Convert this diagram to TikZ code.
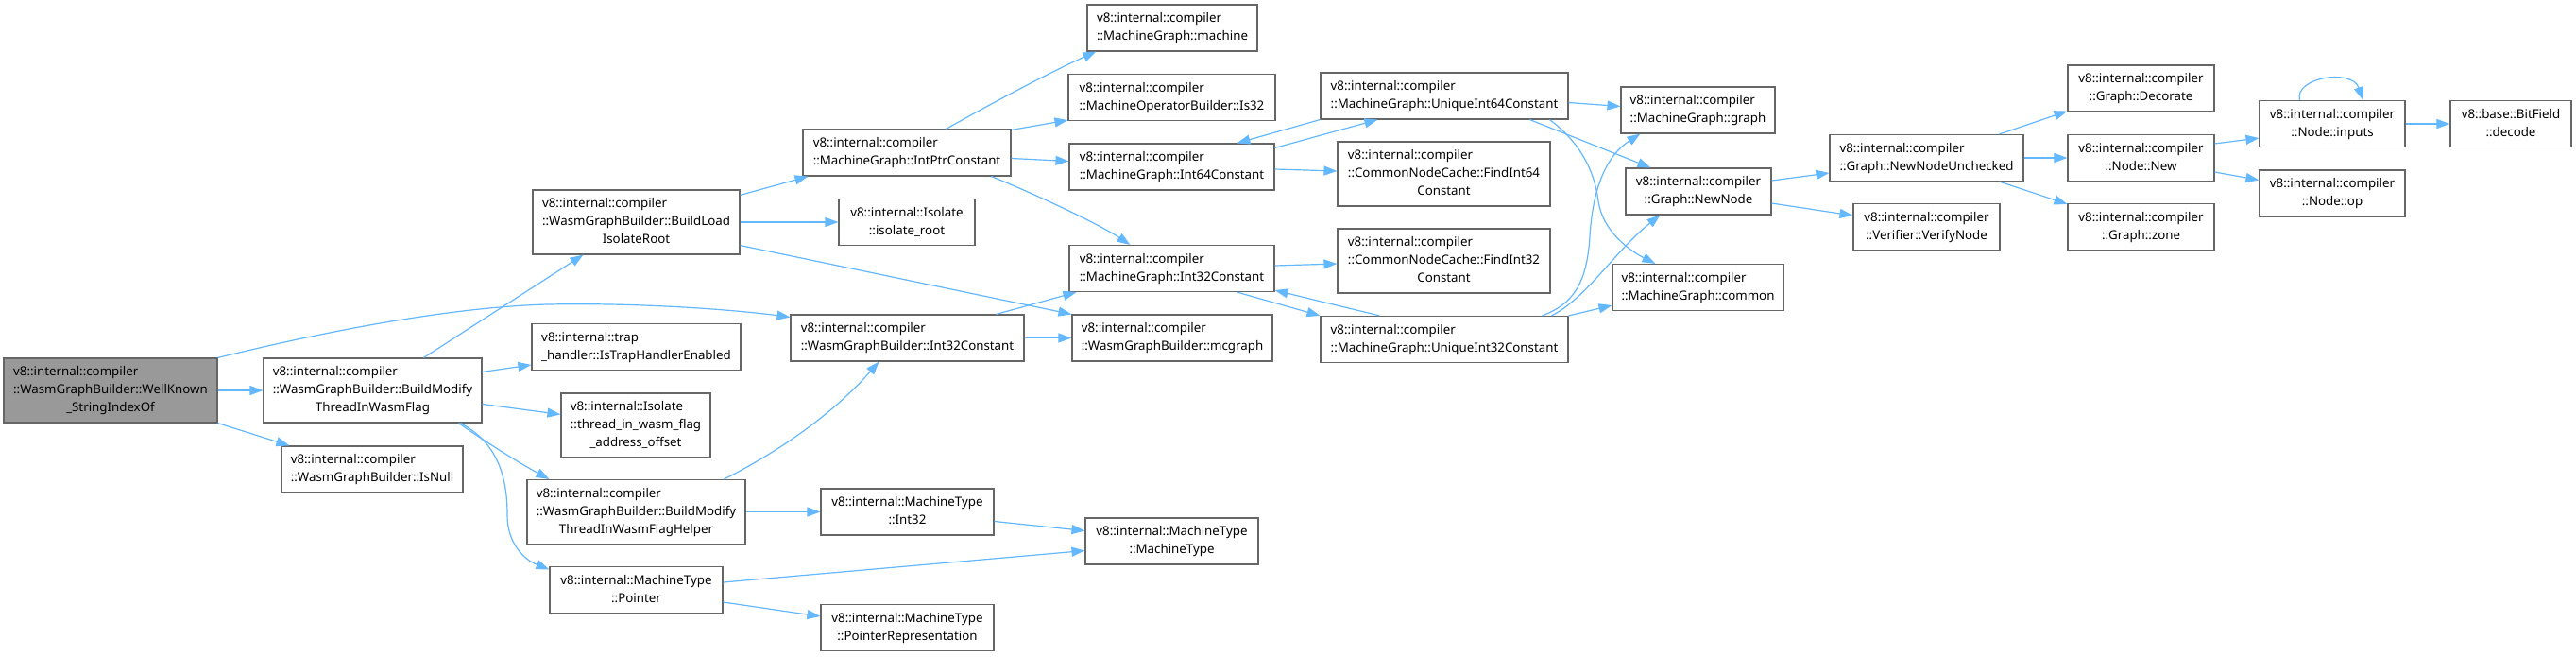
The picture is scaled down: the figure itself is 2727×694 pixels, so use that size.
\documentclass[tikz,border=0pt]{standalone}
\usepackage{fontspec}
\setmainfont{Noto Sans}
\usetikzlibrary{arrows.meta,calc}
\definecolor{edgeblue}{HTML}{63B8FF}
\definecolor{boxgray}{HTML}{666666}
\definecolor{rootfill}{HTML}{999999}
\newcommand{\nlab}[2]{\begin{tabular}{@{}l@{}}#1\\\multicolumn{1}{@{}c@{}}{#2}\end{tabular}}
\begin{document}
\begin{tikzpicture}[x=1pt,y=-1pt,
  fnbox/.style={draw=boxgray, line width=1.1pt, fill=white, inner sep=0pt, rectangle,
    font=\fontsize{13.3}{19}\selectfont, text=black},
  rootbox/.style={fnbox, fill=rootfill},
  calledge/.style={draw=edgeblue, line width=1.2pt, -{Triangle[length=14pt,width=10pt]}}]
\fill[white] (0,0) rectangle (2727,694);
\useasboundingbox (0,0) rectangle (2727,694);

% column 0
\node[rootbox, minimum width=226pt, minimum height=68pt] (root) at (117,413) {\nlab{v8::internal::compiler\\::WasmGraphBuilder::WellKnown}{\_StringIndexOf}};
% column 1
\node[fnbox, minimum width=231pt, minimum height=68pt] (bm) at (394.5,413) {\nlab{v8::internal::compiler\\::WasmGraphBuilder::BuildModify}{ThreadInWasmFlag}};
\node[fnbox, minimum width=192pt, minimum height=49pt] (isnull) at (394,496.5) {\nlab{v8::internal::compiler}{::WasmGraphBuilder::IsNull}};
% column 2
\node[fnbox, minimum width=219pt, minimum height=68pt] (blir) at (673.5,235) {\nlab{v8::internal::compiler\\::WasmGraphBuilder::BuildLoad}{IsolateRoot}};
\node[fnbox, minimum width=221pt, minimum height=49pt] (istrap) at (673.5,367) {\nlab{v8::internal::trap}{\_handler::IsTrapHandlerEnabled}};
\node[fnbox, minimum width=158pt, minimum height=68pt] (tiw) at (673,450) {\nlab{v8::internal::Isolate\\::thread\_in\_wasm\_flag}{\_address\_offset}};
\node[fnbox, minimum width=231pt, minimum height=68pt] (helper) at (673.5,541.5) {\nlab{v8::internal::compiler\\::WasmGraphBuilder::BuildModify}{ThreadInWasmFlagHelper}};
\node[fnbox, minimum width=183pt, minimum height=49pt] (pointer) at (673.5,624) {\nlab{v8::internal::MachineType}{::Pointer}};
% column 3
\node[fnbox, minimum width=220pt, minimum height=49pt] (intptr) at (960,161.5) {\nlab{v8::internal::compiler}{::MachineGraph::IntPtrConstant}};
\node[fnbox, minimum width=144pt, minimum height=49pt] (isoroot) at (960,235) {\nlab{v8::internal::Isolate}{::isolate\_root}};
\node[fnbox, minimum width=247pt, minimum height=49pt] (wgbi32) at (960.5,357.5) {\nlab{v8::internal::compiler}{::WasmGraphBuilder::Int32Constant}};
\node[fnbox, minimum width=183pt, minimum height=49pt] (mtint32) at (960.5,541.5) {\nlab{v8::internal::MachineType}{::Int32}};
\node[fnbox, minimum width=183pt, minimum height=49pt] (ptrrep) at (960.5,664) {\nlab{v8::internal::MachineType}{::PointerRepresentation}};
% column 4
\node[fnbox, minimum width=180pt, minimum height=49pt] (machine) at (1241,29.5) {\nlab{v8::internal::compiler}{::MachineGraph::machine}};
\node[fnbox, minimum width=219pt, minimum height=49pt] (is32) at (1240.5,103) {\nlab{v8::internal::compiler}{::MachineOperatorBuilder::Is32}};
\node[fnbox, minimum width=217pt, minimum height=49pt] (int64) at (1240.5,176.5) {\nlab{v8::internal::compiler}{::MachineGraph::Int64Constant}};
\node[fnbox, minimum width=217pt, minimum height=49pt] (mgi32) at (1240.5,284) {\nlab{v8::internal::compiler}{::MachineGraph::Int32Constant}};
\node[fnbox, minimum width=212pt, minimum height=49pt] (mcgraph) at (1241,357.5) {\nlab{v8::internal::compiler}{::WasmGraphBuilder::mcgraph}};
\node[fnbox, minimum width=183pt, minimum height=49pt] (mtmt) at (1240.5,572.5) {\nlab{v8::internal::MachineType}{::MachineType}};
% column 5
\node[fnbox, minimum width=262pt, minimum height=49pt] (uniq64) at (1529,101.5) {\nlab{v8::internal::compiler}{::MachineGraph::UniqueInt64Constant}};
\node[fnbox, minimum width=225pt, minimum height=68pt] (find64) at (1528.5,184) {\nlab{v8::internal::compiler\\::CommonNodeCache::FindInt64}{Constant}};
\node[fnbox, minimum width=225pt, minimum height=68pt] (find32) at (1528.5,276) {\nlab{v8::internal::compiler\\::CommonNodeCache::FindInt32}{Constant}};
\node[fnbox, minimum width=262pt, minimum height=49pt] (uniq32) at (1529,359) {\nlab{v8::internal::compiler}{::MachineGraph::UniqueInt32Constant}};
% column 6
\node[fnbox, minimum width=163pt, minimum height=49pt] (mggraph) at (1797.5,116.5) {\nlab{v8::internal::compiler}{::MachineGraph::graph}};
\node[fnbox, minimum width=154pt, minimum height=49pt] (newnode) at (1798,202.5) {\nlab{v8::internal::compiler}{::Graph::NewNode}};
\node[fnbox, minimum width=181pt, minimum height=49pt] (common) at (1797.5,304) {\nlab{v8::internal::compiler}{::MachineGraph::common}};
% column 7
\node[fnbox, minimum width=205pt, minimum height=49pt] (nnu) at (2039.5,167) {\nlab{v8::internal::compiler}{::Graph::NewNodeUnchecked}};
\node[fnbox, minimum width=155pt, minimum height=49pt] (verify) at (2039.5,240) {\nlab{v8::internal::compiler}{::Verifier::VerifyNode}};
% column 8
\node[fnbox, minimum width=155pt, minimum height=49pt] (decorate) at (2266.5,93.5) {\nlab{v8::internal::compiler}{::Graph::Decorate}};
\node[fnbox, minimum width=155pt, minimum height=49pt] (nodenew) at (2266.5,167) {\nlab{v8::internal::compiler}{::Node::New}};
\node[fnbox, minimum width=155pt, minimum height=49pt] (zone) at (2266.5,240) {\nlab{v8::internal::compiler}{::Graph::zone}};
% column 9
\node[fnbox, minimum width=154pt, minimum height=49pt] (inputs) at (2469,131) {\nlab{v8::internal::compiler}{::Node::inputs}};
\node[fnbox, minimum width=154pt, minimum height=49pt] (op) at (2469,204.5) {\nlab{v8::internal::compiler}{::Node::op}};
% column 10
\node[fnbox, minimum width=128pt, minimum height=49pt] (decode) at (2658,131) {\nlab{v8::base::BitField}{::decode}};

% edges
\draw[calledge] (root.east) -- (bm.west);
\draw[calledge] (root.south east) -- ($(isnull.north west)+(9,0)$);
\draw[calledge] (root.north east) .. controls (330,354) and (470,325) .. (580,322) .. controls (680,320) and (780,328) .. ($(wgbi32.north west)+(0,3)$);
\draw[calledge] ($(bm.north west)+(170,0)$) -- ($(blir.south west)+(54,0)$);
\draw[calledge] ($(bm.north east)+(0,15)$) -- ($(istrap.north west)+(0,44)$);
\draw[calledge] ($(bm.north east)+(0,49)$) -- ($(tiw.north west)+(0,23)$);
\draw[calledge] ($(bm.south west)+(207,0)$) .. controls (515,468) and (550,490) .. ($(helper.north west)+(24,0)$);
\draw[calledge] ($(bm.south west)+(209,0)$) .. controls (530,470) and (537,510) .. (537,545) .. controls (537,575) and (555,592) .. ($(pointer.north west)+(0,3.5)$);
\draw[calledge] ($(blir.north east)+(0,6)$) -- ($(intptr.south west)+(6,0)$);
\draw[calledge] (blir.east) -- (isoroot.west);
\draw[calledge] ($(blir.south east)+(0,-10)$) -- (mcgraph.north west);
\draw[calledge] ($(intptr.north west)+(152,0)$) .. controls (1045,112) and (1110,77) .. ($(machine.south west)+(10,0)$);
\draw[calledge] ($(intptr.north east)+(0,1)$) -- ($(is32.south west)+(0,-1)$);
\draw[calledge] ($(intptr.east)+(0,6)$) -- ($(int64.west)+(0,-6)$);
\draw[calledge] ($(intptr.south west)+(200,0)$) .. controls (1090,203) and (1160,235) .. ($(mgi32.north west)+(65,0)$);
\draw[calledge] ($(int64.north east)+(0,5)$) -- ($(uniq64.south west)+(61,0)$);
\draw[calledge] (uniq64.south west) -- ($(int64.north west)+(178,0)$);
\draw[calledge] ($(int64.east)+(0,2.5)$) -- ($(find64.west)+(0,-3)$);
\draw[calledge] ($(mgi32.east)+(0,-3)$) -- ($(find32.west)+(0,3)$);
\draw[calledge] ($(mgi32.south west)+(178,0)$) -- (uniq32.north west);
\draw[calledge] ($(uniq32.north west)+(63,0)$) -- ($(mgi32.south east)+(0,-2)$);
\draw[calledge] ($(wgbi32.north west)+(218,0)$) -- ($(mgi32.south west)+(8,0)$);
\draw[calledge] (wgbi32.east) -- (mcgraph.west);
\draw[calledge] ($(helper.north west)+(209,0)$) .. controls (820,480) and (880,440) .. ($(wgbi32.south west)+(94,0)$);
\draw[calledge] (helper.east) -- (mtint32.west);
\draw[calledge] ($(mtint32.east)+(0,10)$) -- ($(mtmt.west)+(0,-11)$);
\draw[calledge] ($(pointer.east)+(0,-8)$) -- ($(mtmt.west)+(0,10)$);
\draw[calledge] ($(pointer.east)+(0,13)$) -- ($(ptrrep.west)+(0,-12)$);
\draw[calledge] ($(uniq64.east)+(0,7)$) -- ($(mggraph.west)+(0,-4)$);
\draw[calledge] ($(uniq64.south west)+(222,0)$) -- ($(newnode.north west)+(27,0)$);
\draw[calledge] ($(uniq64.south west)+(243,0)$) .. controls (1672,150) and (1688,180) .. (1692,213) .. controls (1697,245) and (1725,265) .. ($(common.north west)+(46,0)$);
\draw[calledge] ($(uniq32.north west)+(235,0)$) .. controls (1665,322) and (1680,300) .. (1683,250) .. controls (1686,200) and (1700,165) .. ($(mggraph.south west)+(21,0)$);
\draw[calledge] ($(uniq32.north west)+(245,0)$) .. controls (1680,315) and (1710,265) .. ($(newnode.south west)+(37,0)$);
\draw[calledge] (uniq32.north east) -- ($(common.south west)+(0,-6)$);
\draw[calledge] ($(newnode.east)+(0,-11.5)$) -- ($(nnu.west)+(0,16)$);
\draw[calledge] ($(newnode.east)+(0,12.5)$) -- ($(verify.west)+(0,-12)$);
\draw[calledge] ($(nnu.north west)+(180,0)$) -- ($(decorate.south west)+(0,-1)$);
\draw[calledge] (nnu.east) -- (nodenew.west);
\draw[calledge] ($(nnu.south west)+(180,0)$) -- ($(zone.north west)+(0,1)$);
\draw[calledge] ($(nodenew.north east)+(0,10)$) -- ($(inputs.south west)+(0,-10)$);
\draw[calledge] ($(nodenew.east)+(0,15)$) -- ($(op.west)+(0,-14)$);
\draw[calledge] (inputs.east) -- (decode.west);
\draw[calledge] ($(inputs.north west)+(43,0)$) .. controls (2428,82) and (2490,72) .. ($(inputs.north west)+(110,0)$);
\end{tikzpicture}
\end{document}
